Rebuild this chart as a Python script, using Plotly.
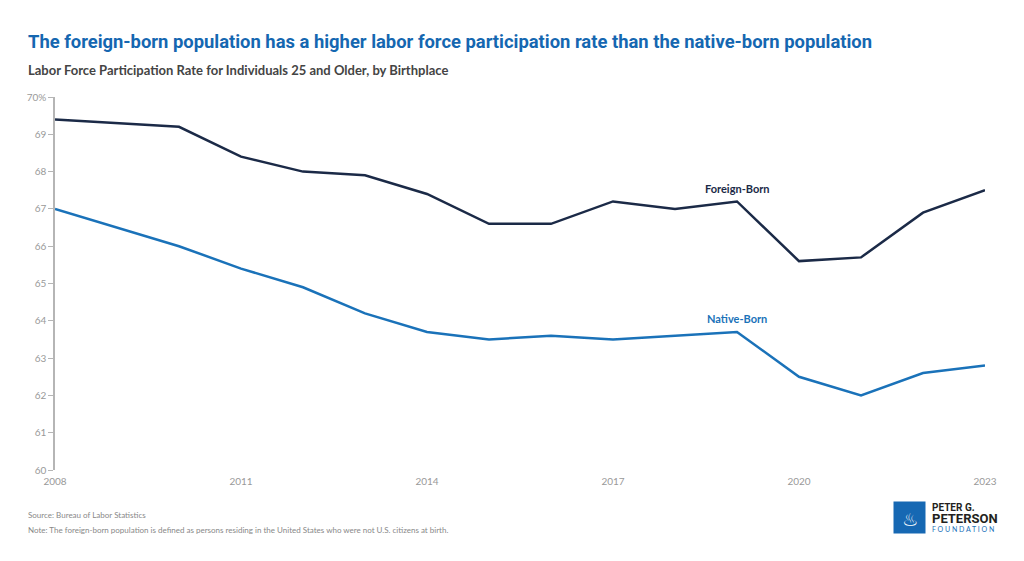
import plotly.graph_objects as go

years = [2008, 2010, 2011, 2012, 2013, 2014, 2015, 2016, 2017, 2018, 2019, 2020, 2021, 2022, 2023]
foreign_born = [69.4, 69.2, 68.4, 68.0, 67.9, 67.4, 66.6, 66.6, 67.2, 67.0, 67.2, 65.6, 65.7, 66.9, 67.5]
native_born = [67.0, 66.0, 65.4, 64.9, 64.2, 63.7, 63.5, 63.6, 63.5, 63.6, 63.7, 62.5, 62.0, 62.6, 62.8]

x_ticks = [2008, 2011, 2014, 2017, 2020, 2023]
y_ticks = [60, 61, 62, 63, 64, 65, 66, 67, 68, 69, 70]
y_tick_text = ["60", "61", "62", "63", "64", "65", "66", "67", "68", "69", "70%"]

NAVY = "#1b2a47"
BLUE = "#1a72b9"

fig = go.Figure()
fig.add_trace(go.Scatter(x=years, y=foreign_born, mode="lines", name="Foreign-Born",
                         line=dict(color=NAVY, width=2.5), hoverinfo="x+y"))
fig.add_trace(go.Scatter(x=years, y=native_born, mode="lines", name="Native-Born",
                         line=dict(color=BLUE, width=2.5), hoverinfo="x+y"))

fig.add_annotation(x=2019, y=67.55, text="<b>Foreign-Born</b>", showarrow=False,
                   font=dict(family="Lato", size=11, color=NAVY), xanchor="center", yanchor="middle")
fig.add_annotation(x=2019, y=64.05, text="<b>Native-Born</b>", showarrow=False,
                   font=dict(family="Lato", size=11, color=BLUE), xanchor="center", yanchor="middle")

# Titles
fig.add_annotation(xref="paper", yref="paper", x=-0.031, y=1.0, yshift=56,
                   text="<b>The foreign-born population has a higher labor force participation rate than the native-born population</b>",
                   showarrow=False, xanchor="left", yanchor="middle",
                   font=dict(family="Roboto", size=18.4, color="#1567b1"))
fig.add_annotation(xref="paper", yref="paper", x=-0.031, y=1.0, yshift=27,
                   text="<b>Labor Force Participation Rate for Individuals 25 and Older, by Birthplace</b>",
                   showarrow=False, xanchor="left", yanchor="middle",
                   font=dict(family="Lato", size=13, color="#444444"))
# Footer
fig.add_annotation(xref="paper", yref="paper", x=-0.031, y=0.0, yshift=-45,
                   text="Source: Bureau of Labor Statistics", showarrow=False,
                   xanchor="left", yanchor="middle", font=dict(family="Lato", size=8, color="#888888"))
fig.add_annotation(xref="paper", yref="paper", x=-0.031, y=0.0, yshift=-60,
                   text="Note: The foreign-born population is defined as persons residing in the United States who were not U.S. citizens at birth.",
                   showarrow=False, xanchor="left", yanchor="middle", font=dict(family="Lato", size=8, color="#888888"))

# Logo
fig.add_annotation(xref="paper", yref="paper", x=0.919, y=0.0, yshift=-47,
                   text="", showarrow=False, width=29, height=29, bgcolor="#1668b3",
                   xanchor="center", yanchor="middle")
fig.add_annotation(xref="paper", yref="paper", x=0.919, y=0.0, yshift=-49,
                   text="<b>♨</b>", showarrow=False, xanchor="center", yanchor="middle",
                   font=dict(family="DejaVu Sans", size=18, color="white"))
fig.add_annotation(xref="paper", yref="paper", x=0.941, y=0.0, yshift=-37,
                   text="<b>PETER G.</b>", showarrow=False, xanchor="left", yanchor="middle",
                   font=dict(family="Roboto", size=10, color="#231f20"))
fig.add_annotation(xref="paper", yref="paper", x=0.941, y=0.0, yshift=-48,
                   text="<b>PETERSON</b>", showarrow=False, xanchor="left", yanchor="middle",
                   font=dict(family="Roboto", size=13, color="#231f20"))
fig.add_annotation(xref="paper", yref="paper", x=0.941, y=0.0, yshift=-59,
                   text="F O U N D A T I O N", showarrow=False, xanchor="left", yanchor="middle",
                   font=dict(family="Lato", size=7, color=BLUE))

fig.update_layout(
    width=1024, height=561,
    margin=dict(l=55, r=39, t=97, b=91),
    plot_bgcolor="white", paper_bgcolor="white",
    showlegend=False,
    xaxis=dict(range=[2008, 2023], tickvals=x_ticks, ticktext=[str(v) for v in x_ticks],
               showgrid=False, zeroline=False, showline=False, ticks="",
               ticklabelstandoff=4,
               tickfont=dict(family="Lato", size=10, color="#999999")),
    yaxis=dict(range=[60, 70], tickvals=y_ticks, ticktext=y_tick_text,
               showgrid=False, zeroline=False, showline=True, linecolor="#b5b5b5", linewidth=1.5,
               ticks="outside", ticklen=5, tickcolor="#b5b5b5",
               tickfont=dict(family="Lato", size=10, color="#999999")),
)

fig.write_html("out.html", config={"displayModeBar": False},
               post_script="document.body.style.margin='0';")
